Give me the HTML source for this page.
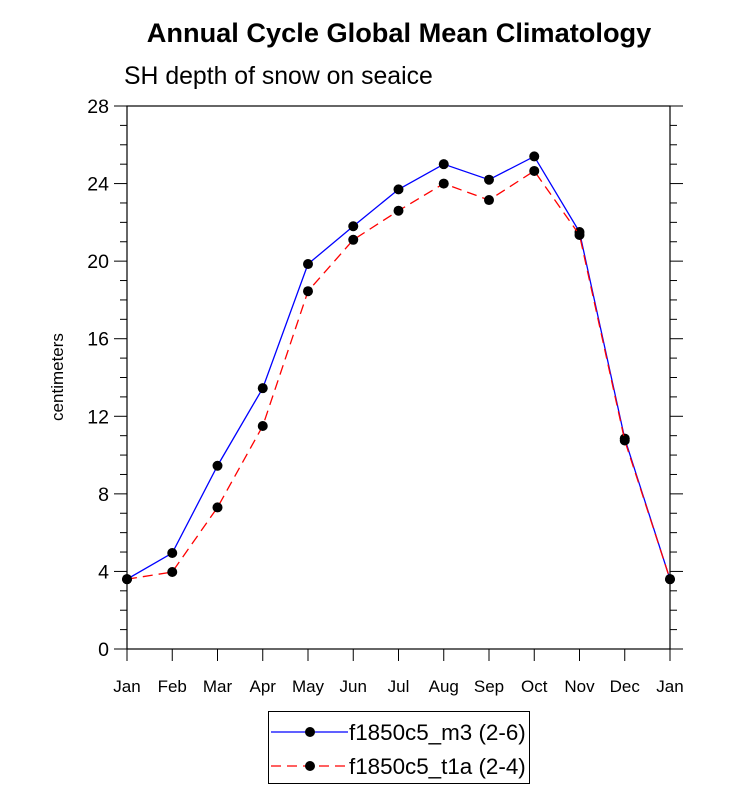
<!DOCTYPE html>
<html><head><meta charset="utf-8"><style>body{margin:0;background:#fff}svg{display:block;font-family:"Liberation Sans",sans-serif}</style></head>
<body>
<svg id="chart" width="733" height="806" xmlns="http://www.w3.org/2000/svg">
<text x="399" y="42" text-anchor="middle" font-size="27.2" font-weight="bold">Annual Cycle Global Mean Climatology</text>
<text x="124" y="84" font-size="24.8">SH depth of snow on seaice</text>
<text transform="translate(63,377) rotate(-90)" text-anchor="middle" font-size="17">centimeters</text>
<g id="axes"></g><g id="series"></g>
<g>
<rect x="268.5" y="711.5" width="261" height="72" fill="none" stroke="#000" stroke-width="1"/>
<line x1="271" y1="732" x2="348" y2="732" stroke="#0000ff" stroke-width="1.3"/>
<circle cx="310" cy="732" r="5" fill="#000"/>
<text x="349" y="740" font-size="22.4">f1850c5_m3 (2-6)</text>
<line x1="271" y1="766" x2="348" y2="766" stroke="#ff0000" stroke-width="1.3" stroke-dasharray="10,6"/>
<circle cx="310" cy="766" r="5" fill="#000"/>
<text x="349" y="774" font-size="22.4">f1850c5_t1a (2-4)</text>
</g>
</svg>
<script>
const months = ["Jan","Feb","Mar","Apr","May","Jun","Jul","Aug","Sep","Oct","Nov","Dec","Jan"];
const seriesM3 = [3.6,4.95,9.45,13.45,19.85,21.8,23.7,25.0,24.2,25.4,21.5,10.85,3.6];
const seriesT1a = [3.6,3.97,7.3,11.5,18.45,21.1,22.6,24.0,23.15,24.65,21.35,10.75,3.6];
const yTicks = [0,4,8,12,16,20,24,28];
const NS="http://www.w3.org/2000/svg";
const L=127,R=670,T=106,B=649,yMax=28;
const xs=i=>L+(R-L)*i/(months.length-1);
const ys=v=>B-(B-T)*v/yMax;
function mk(tag,attrs,parent){const e=document.createElementNS(NS,tag);for(const k in attrs)e.setAttribute(k,attrs[k]);parent.appendChild(e);return e;}
const ax=document.getElementById('axes');
const frame=mk('rect',{x:L,y:T,width:R-L,height:B-T,fill:'none',stroke:'#000','stroke-width':1.2},ax);


for(let v=0;v<=yMax;v+=1){
  if(v%4===0){
    mk('line',{x1:L-13,y1:ys(v),x2:L,y2:ys(v),stroke:'#000'},ax);
    mk('line',{x1:R,y1:ys(v),x2:R+13,y2:ys(v),stroke:'#000'},ax);
  } else {
    mk('line',{x1:L-7,y1:ys(v),x2:L,y2:ys(v),stroke:'#000'},ax);
    mk('line',{x1:R,y1:ys(v),x2:R+7,y2:ys(v),stroke:'#000'},ax);
  }
}
yTicks.forEach(v=>{const t=mk('text',{x:L-18,y:ys(v)+7,'text-anchor':'end','font-size':19.5},ax);t.textContent=v;

});
months.forEach((m,i)=>{mk('line',{x1:xs(i),y1:B,x2:xs(i),y2:B+12,stroke:'#000'},ax);
const t=mk('text',{x:xs(i),y:B+43,'text-anchor':'middle','font-size':17},ax);t.textContent=m;

});
const sg=document.getElementById('series');
function draw(data,color,dash,name){
  const p=mk('polyline',{points:data.map((v,i)=>xs(i)+','+ys(v)).join(' '),fill:'none',stroke:color,'stroke-width':1.3,'stroke-dasharray':dash},sg);
  
  
  data.forEach((v,i)=>{const c=mk('circle',{cx:xs(i),cy:ys(v),r:5,fill:'#000'},sg);
  
  });
}
draw(seriesM3,'#0000ff','none','m3');
draw(seriesT1a,'#ff0000','10,6','t1a');
</script>
</body></html>
